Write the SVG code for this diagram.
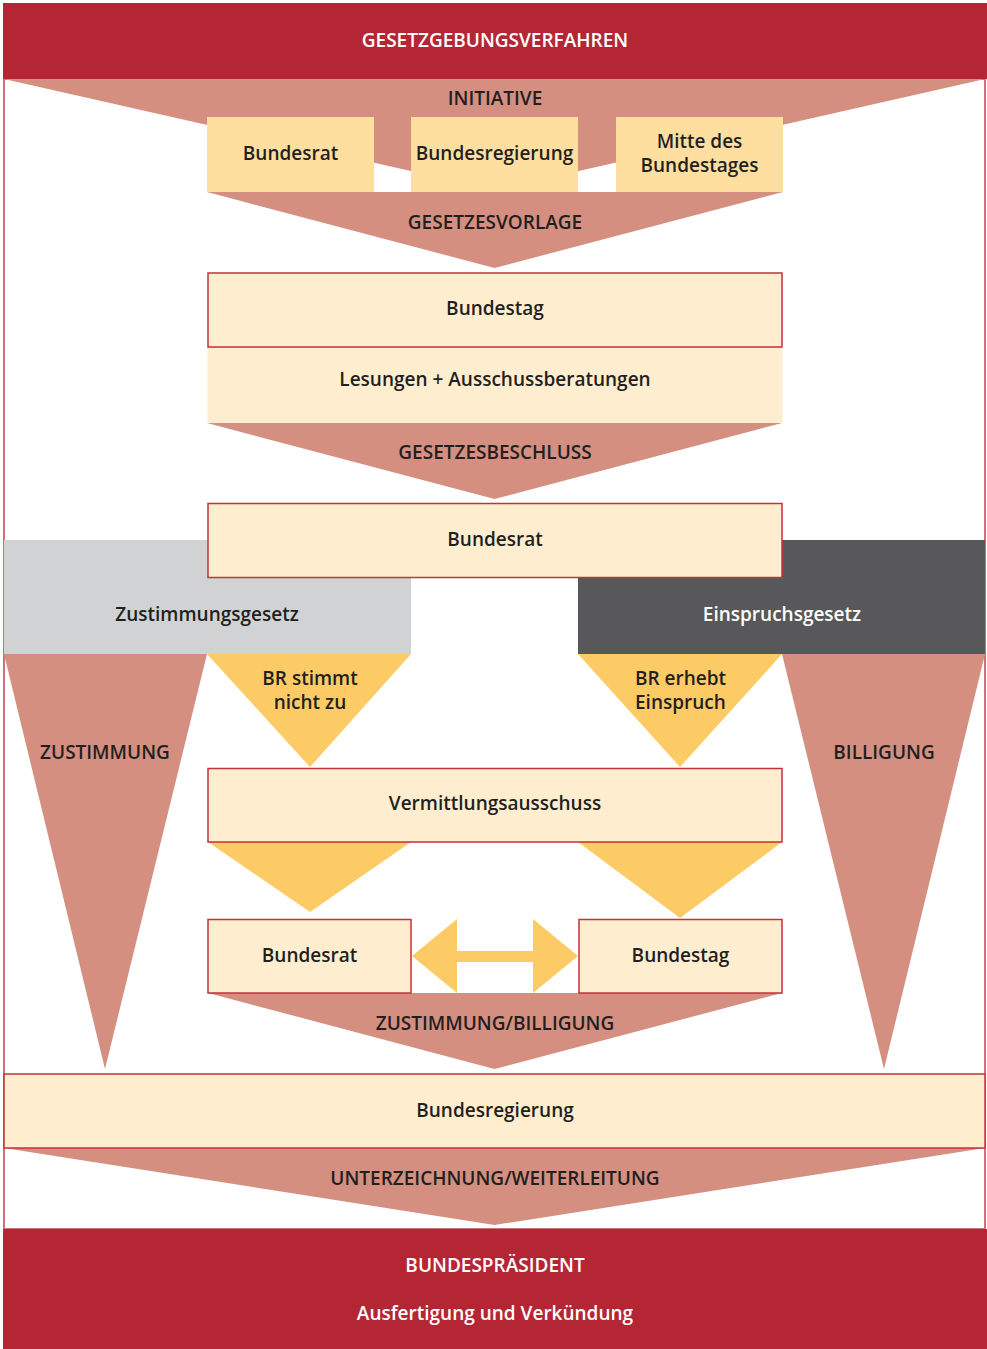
<svg xmlns="http://www.w3.org/2000/svg" width="987" height="1349" viewBox="0 0 987 1349">
<style>
.t{font-family:"Open Sans","Noto Sans","Liberation Sans",sans-serif;font-weight:600;font-size:19px;fill:#231F20;text-anchor:middle}
.w{fill:#FFFFFF}
.sal{fill:#D48F80}
.yel{fill:#FDCB65}
.org{fill:#FEDFA0}
.box{fill:#FEEECF;stroke:#C4303D;stroke-width:1.5}
.cream{fill:#FEEECF}
.red{fill:#B52635}
</style>
<rect x="0" y="0" width="987" height="1349" fill="#FFFFFF"/>
<rect x="4" y="79" width="981" height="1150" fill="none" stroke="#D0707A" stroke-width="2"/>

<g id="connectors">
<polygon class="sal" points="4,79 985,79 494.5,190"/>
<polygon class="sal" points="207,192 783,192 494.5,268"/>
<polygon class="sal" points="207,423 782,423 494.5,499"/>
<polygon class="sal" points="4,654 207,654 105,1069"/>
<polygon class="sal" points="782,654 985,654 884,1069"/>
<polygon class="yel" points="207,654 411,654 310,767"/>
<polygon class="yel" points="578,654 782,654 680,767"/>
<polygon class="yel" points="208,842 411,842 310,912"/>
<polygon class="yel" points="578,842 782,842 680,918"/>
<polygon class="yel" points="412,956 457,919 457,951 533,951 533,919 578,956 533,993 533,962 457,962 457,993"/>
<polygon class="sal" points="208,993 782,993 494.5,1069"/>
<polygon class="sal" points="4,1148 985,1148 494.5,1225"/>
</g>

<g id="header">
<rect class="red" x="3" y="3" width="984" height="76"/>
<text class="t w" x="495" y="47">GESETZGEBUNGSVERFAHREN</text>
</g>

<g id="initiative">
<text class="t" x="495" y="105">INITIATIVE</text>
</g>

<g id="n-bundesrat1">
<rect class="org" x="207" y="117" width="167" height="75"/>
<text class="t" x="290.5" y="160">Bundesrat</text>
</g>
<g id="n-bundesregierung1">
<rect class="org" x="411" y="117" width="167" height="75"/>
<text class="t" x="494.5" y="160">Bundesregierung</text>
</g>
<g id="n-mitte">
<rect class="org" x="616" y="117" width="167" height="75"/>
<text class="t" x="699.5" y="148">Mitte des</text>
<text class="t" x="699.5" y="172">Bundestages</text>
</g>

<g id="l-gesetzesvorlage">
<text class="t" x="495" y="229">GESETZESVORLAGE</text>
</g>

<g id="n-bundestag1">
<rect class="cream" x="207.5" y="347" width="575" height="76"/>
<rect class="box" x="208" y="273" width="574" height="74"/>
<text class="t" x="495" y="315">Bundestag</text>
<text class="t" x="495" y="386">Lesungen + Ausschussberatungen</text>
</g>

<g id="l-gesetzesbeschluss">
<text class="t" x="495" y="459">GESETZESBESCHLUSS</text>
</g>

<g id="n-zustimmungsgesetz">
<rect x="4" y="540" width="407" height="114" fill="#D1D2D4"/>
<text class="t" x="207" y="621">Zustimmungsgesetz</text>
</g>
<g id="n-einspruchsgesetz">
<rect x="578" y="540" width="407" height="114" fill="#58585A"/>
<text class="t w" x="782" y="621">Einspruchsgesetz</text>
</g>

<g id="n-bundesrat2">
<rect class="box" x="208" y="503.5" width="574" height="74"/>
<text class="t" x="495" y="546">Bundesrat</text>
</g>

<g id="labels-branches">
<text class="t" x="310" y="685">BR stimmt</text>
<text class="t" x="310" y="709">nicht zu</text>
<text class="t" x="635" y="685" style="text-anchor:start">BR erhebt</text>
<text class="t" x="635" y="709" style="text-anchor:start">Einspruch</text>
<text class="t" x="105" y="759">ZUSTIMMUNG</text>
<text class="t" x="884" y="759">BILLIGUNG</text>
</g>

<g id="n-vermittlung">
<rect class="box" x="208" y="768.5" width="574" height="73.5"/>
<text class="t" x="495" y="810">Vermittlungsausschuss</text>
</g>

<g id="n-bundesrat3">
<rect class="box" x="208" y="919.5" width="203" height="73.5"/>
<text class="t" x="309.5" y="962">Bundesrat</text>
</g>
<g id="n-bundestag2">
<rect class="box" x="579" y="919.5" width="203" height="73.5"/>
<text class="t" x="680.5" y="962">Bundestag</text>
</g>

<g id="l-zustimmung-billigung">
<text class="t" x="495" y="1030">ZUSTIMMUNG/BILLIGUNG</text>
</g>

<g id="n-bundesregierung2">
<rect class="box" x="4" y="1074" width="981" height="74"/>
<text class="t" x="495" y="1117">Bundesregierung</text>
</g>

<g id="l-unterzeichnung">
<text class="t" x="495" y="1185">UNTERZEICHNUNG/WEITERLEITUNG</text>
</g>

<g id="n-bundespraesident">
<rect class="red" x="3" y="1229" width="984" height="120"/>
<text class="t w" x="495" y="1272">BUNDESPRÄSIDENT</text>
<text class="t w" x="495" y="1320">Ausfertigung und Verkündung</text>
</g>
</svg>
